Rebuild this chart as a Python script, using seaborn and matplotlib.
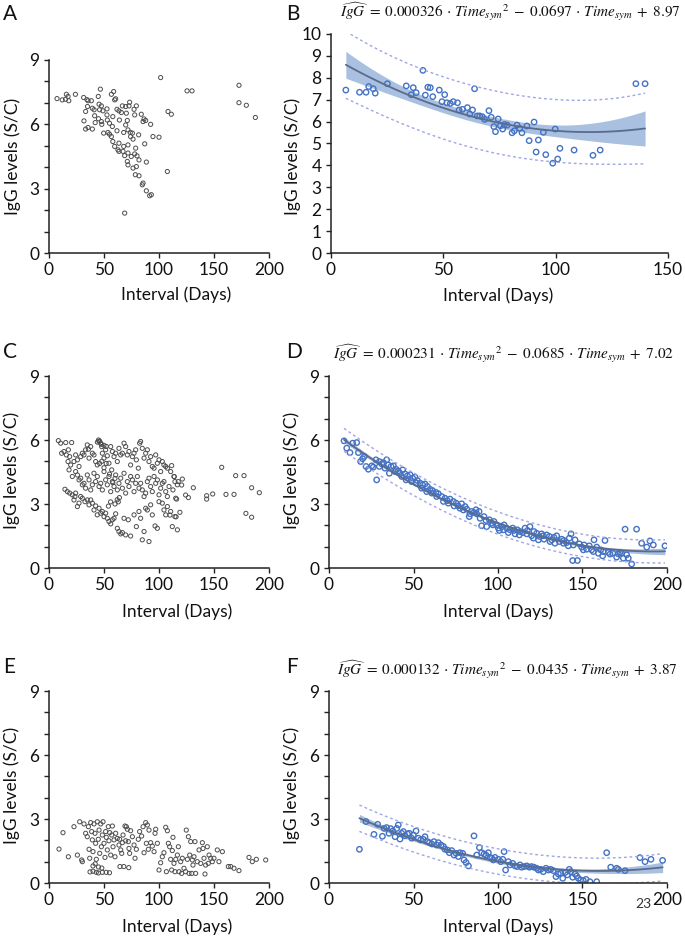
import numpy as np
import matplotlib
matplotlib.use("Agg")
import matplotlib.pyplot as plt
import seaborn as sns

# ---------------- data (Interval in days, IgG S/C) ----------------
panel_a_points = [(7.3,7.20),(12,7.14),(15,7.17),(15.8,7.40),(17.3,7.30),(18,7.10),(24,7.40),(31.5,7.25),(34.5,7.15),(35.5,7.10),
 (38.5,7.10),(31.8,6.16),(33.3,6.60),(35,6.83),(33.3,5.78),(35.5,5.85),(39.4,5.78),(39.4,6.75),(41,6.68),(41.5,6.40),
 (42,6.08),(44.8,7.30),(46.7,7.64),(45.5,6.94),(47.6,6.86),(46,6.68),(49,6.63),(45,6.26),(47.6,6.13),(48,6.00),
 (49.7,5.59),(52.7,6.72),(52.7,6.44),(53,6.20),(55,6.05),(53.6,5.62),(55,5.54),(56.7,5.43),(56.7,7.40),(58.8,7.53),
 (59.7,7.14),(60.6,7.19),(58,6.36),(57.6,5.90),(58,5.20),(59.7,4.97),(62.7,4.81),(61.8,6.70),(63.6,6.63),(64,6.20),
 (61.8,5.70),(63.6,5.12),(63.6,4.74),(65.8,6.55),(66.7,6.86),(67.9,5.62),(67.9,4.97),(67.3,4.74),(68.8,4.54),(68.8,1.86),
 (69.7,6.83),(70.3,6.52),(69.7,5.97),(71.2,6.18),(71.8,5.74),(71.8,5.04),(71.8,4.66),(71.2,4.27),(71.8,4.11),(73.3,7.03),
 (72.7,6.86),(73.9,5.62),(74.2,5.43),(74.8,4.50),(75.8,5.59),(76.4,5.31),(76.4,3.96),(77.3,6.70),(77.9,6.44),(77.9,4.62),
 (78.5,3.65),(79.4,6.86),(79.4,4.03),(80,4.53),(78.8,4.89),(81.5,5.51),(81.8,4.34),(81.8,3.60),(83.9,6.47),(85.5,6.13),
 (85.5,3.26),(84.8,3.18),(86.4,6.25),(87,5.09),(87.9,6.18),(88.5,4.24),(88.5,2.90),(91.5,2.67),(93,2.72),(92.4,6.00),
 (94.5,5.43),(100,5.40),(101.5,8.18),(107.6,3.80),(108.2,6.60),(111.2,6.47),(125.5,7.56),(130,7.56),(172.7,7.82),(172.7,7.01),
 (179.4,6.89),(187.6,6.32)]

panel_b_points = [(6.6,7.44),(12.7,7.34),(15.6,7.34),(16.8,7.60),(18.8,7.50),(19.7,7.30),(25.1,7.73),(33.5,7.63),(35.7,7.23),(36.6,7.55),
 (37.9,7.32),(40.9,8.34),(42,7.21),(43.1,7.57),(44.2,7.55),(45.3,7.14),(48.2,7.44),(49.4,6.91),(50.6,7.23),(51.6,6.86),
 (53.1,6.83),(54.4,6.91),(56.3,6.86),(57,6.53),(58.5,6.56),(60.7,6.64),(61.8,6.35),(63,6.53),(63.9,7.50),(65.1,6.26),
 (66.2,6.26),(67.4,6.22),(68.4,6.10),(70.3,6.50),(71.3,6.20),(72.5,5.77),(73.2,5.54),(74.4,6.12),(75.4,5.81),(76.4,5.66),
 (77.2,5.87),(78.4,5.84),(80.6,5.49),(81.6,5.58),(82.8,5.84),(84,5.69),(85,5.49),(87.2,5.80),(88.2,5.13),(90.4,5.98),
 (91.3,4.61),(92.3,5.16),(94.5,5.51),(95.6,4.49),(98.7,4.10),(99.8,5.66),(100.9,4.29),(101.9,4.78),(108.2,4.70),(116.6,4.46),
 (119.8,4.70),(135.7,7.73),(139.8,7.73)]

panel_c_points = [(8.5,5.97),(10.6,5.85),(15.2,5.88),(20.6,5.88),(11.5,5.38),(17.6,5.54),(18.8,5.22),(24.2,5.30),(22.7,4.99),(25.8,5.07),
 (28.8,5.22),(27.3,4.76),(30.3,5.38),(31.8,5.30),(33.3,5.54),(34.8,5.77),(35.8,5.57),(36.4,5.15),(37.9,5.69),(39.4,5.38),
 (40.9,5.30),(42.4,4.99),(43.9,4.83),(45.5,5.93),(47,5.85),(47.9,5.69),(48.5,5.38),(50,5.15),(51.5,5.54),(53,5.26),
 (54.5,4.91),(56.1,5.69),(57.6,5.46),(59.1,5.22),(60.6,5.38),(62.1,4.99),(63.6,5.61),(65.2,5.30),(66.7,5.38),(68.2,5.85),
 (69.7,5.69),(71.2,5.30),(72.7,5.46),(74.2,4.83),(75.8,5.22),(77.3,5.38),(78.8,5.54),(79.4,5.07),(81.2,4.68),(82.4,5.85),
 (83.3,5.93),(84.8,5.61),(86.4,5.15),(87.9,5.38),(89.4,5.54),(90.9,4.99),(92.4,5.22),(93.9,4.76),(95.5,4.68),(97,5.30),
 (98.5,4.91),(100,5.07),(101.5,4.52),(103,4.99),(104.5,4.83),(106.1,4.76),(107.6,4.68),(110.6,4.52),(113.6,4.29),(114.5,4.05),
 (116.7,3.90),(24.2,4.52),(25.8,4.36),(27.3,4.13),(28.8,4.21),(30.3,3.90),(31.8,3.97),(33.3,3.74),(34.8,4.36),(36.4,4.13),
 (37.9,3.66),(39.4,3.90),(40.9,4.44),(42.4,4.05),(43.9,4.29),(45.5,3.82),(47,3.97),(48.5,3.66),(50,4.52),(51.5,4.13),
 (53,3.90),(54.5,4.29),(56.1,3.58),(57.6,4.05),(59.1,3.82),(60.6,4.36),(62.1,3.66),(63.6,3.97),(65.2,4.21),(66.7,3.74),
 (68.2,4.44),(69.7,3.51),(71.2,4.05),(72.7,3.82),(74.2,4.29),(75.8,4.13),(77.3,3.58),(78.8,3.97),(80.3,4.29),(81.8,3.74),
 (83.3,3.97),(84.8,3.66),(86.4,3.35),(87.9,3.51),(89.4,4.05),(90.9,4.21),(92.4,3.82),(93.9,3.58),(95.5,4.29),(97,3.97),
 (98.5,4.13),(100,3.43),(101.5,3.74),(103,3.97),(104.5,4.05),(106.1,3.58),(107.6,3.35),(109.1,3.82),(112.7,3.66),(115.2,3.27),
 (14.5,3.69),(16.7,3.58),(18.8,3.51),(21.2,3.43),(23.6,3.35),(25.8,2.88),(27.3,3.04),(28.8,3.35),(30.3,3.27),(32.7,3.11),
 (34.8,3.19),(36.4,2.96),(37.9,3.19),(39.4,3.04),(40.9,2.72),(42.4,2.91),(43.9,2.49),(45.5,2.80),(47,2.57),(48.5,2.65),
 (50,2.41),(51.5,2.57),(53,2.33),(54.5,2.18),(56.1,2.07),(57.6,2.26),(59.1,2.33),(60.6,2.54),(62.1,1.86),(63.6,1.71),
 (65.2,1.60),(66.7,1.66),(68.2,2.33),(69.7,1.55),(72.1,2.26),(74.2,1.50),(77.3,2.49),(79.4,1.94),(81.8,2.65),(83.3,2.33),
 (84.8,1.32),(86.4,1.71),(87.9,2.80),(89.4,2.72),(90.9,1.24),(92.4,2.96),(93.9,2.49),(96.4,1.97),(98.5,1.86),(100,3.11),
 (103,3.04),(104.5,2.72),(106.1,2.49),(107.6,2.88),(110.6,2.65),(112.1,1.94),(114.5,2.41),(116.7,1.79),(22.7,3.19),(24.2,3.51),
 (18.2,4.60),(19.7,4.83),(21.2,4.29),(13.6,5.46),(15.8,5.30),(17.3,4.99),(44,5.90),(45,6.00),(46,5.95),(47.5,5.80),
 (50,5.75),(52,5.70),(46,4.90),(48,5.00),(50,4.70),(52,4.90),(55,4.40),(57,4.60),(58,4.00),(60,4.20),
 (62,3.20),(63,3.10),(64,3.30),(60,3.00),(56,3.10),(54,2.90),
 (111.5,4.80),(113.9,4.28),(117.5,4.05),(121.2,4.17),(120.6,3.89),(116,3.23),(119,2.61),(110,2.48),(115.5,2.40),(124.2,3.42),
 (126.7,3.30),(131.2,3.76),(143.3,3.39),(143.3,3.23),(148.8,3.47),(157,4.72),(160.9,3.45),(168.2,3.45),(169.7,4.33),(177.3,4.33),
 (179,2.56),(184.2,2.38),(184.2,3.76),(191.2,3.53)]

panel_d_points = [(8.9,5.96),(10.5,5.62),(12.4,5.41),(14,5.85),(16.4,5.88),(17.4,5.41),(18.7,4.99),(19.9,5.12),(20.9,5.23),(21.9,4.76),
 (23.3,4.63),(25.3,4.79),(26.2,4.73),(27.8,5.07),(28.2,4.13),(29.8,4.99),(31.2,4.88),(32.2,4.94),(34.1,5.07),(35.1,4.83),
 (36.7,4.76),(38.1,4.79),(39.7,4.63),(41,4.55),(42,4.44),(43.6,4.60),(45,4.41),(46.4,4.32),(48,4.37),(49.5,4.21),
 (50.9,4.26),(52.3,4.10),(53.9,3.98),(55.4,3.90),(56.8,3.94),(58.2,3.82),(59.8,3.69),(61.3,3.63),(63.3,3.54),(64.7,3.48),
 (66.7,3.35),(68.6,3.27),(70,3.16),(71.6,3.23),(73.6,3.12),(75.2,3.04),(76.5,2.91),(78.5,3.01),(80.5,2.88),(81.5,2.76),
 (83,2.41),(84.4,2.65),(85.8,2.60),(87.4,2.54),(88.8,2.65),(90.3,1.98),(91.7,2.41),(93.3,1.94),(94.9,2.26),(96.3,2.10),
 (97.6,2.18),(99.2,2.02),(100.8,1.76),(102.2,1.94),(103.6,2.02),(105.1,1.87),(107.1,1.79),(108.7,1.87),(110.1,1.60),(111.4,1.79),
 (113,1.71),(114.6,1.66),(116,1.87),(117.4,1.76),(118.9,1.94),(119.9,1.51),(121.3,1.71),(122.9,1.63),(124.5,1.48),(125.8,1.60),
 (127.2,1.35),(128.8,1.55),(130.4,1.48),(131.8,1.32),(133.1,1.44),(134.7,1.51),(136.3,1.24),(137.7,1.35),(139,1.29),(140.6,1.19),
 (142.2,1.40),(143.2,1.60),(144.2,0.35),(145.6,1.32),(147,0.35),(148.1,1.13),(149.5,0.98),(150.9,1.08),(152.5,0.88),(154,1.04),
 (155.4,0.85),(156.8,1.32),(158.4,0.98),(159.4,0.69),(160.8,0.85),(161.9,0.57),(163.3,1.29),(165.3,0.73),(167.9,0.69),(171.2,0.66),
 (172.2,0.73),(174.2,0.46),(175.2,1.82),(176.1,0.62),(179.1,0.19),(182,1.82),(185,1.16),(188,0.98),(189.9,1.27),(191.9,1.08),
 (198.8,1.04),(29.8,4.76),(33.1,4.68),(35.7,4.44),(39.1,4.52),(43,4.29),(45.6,4.13),(48.9,4.05),(51.5,3.98),(54.8,3.74),
 (57.8,3.58),(60.8,3.51),(63.7,3.35),(67.7,3.12),(70.6,3.04),(74,2.91),(77.5,2.80),(79.5,2.72),(83.4,2.54),(87,2.73),
 (89.4,2.33),(92.9,2.23),(96.9,2.02),(100.2,1.87),(103.2,1.79),(106.1,1.66),(109.5,1.76),(112.6,1.55),(117,1.60),(120.9,1.40),
 (123.9,1.32),(126.8,1.51),(130.8,1.24),(133.7,1.16),(138.7,1.16),(141.6,1.04),(144.6,1.08),(150.5,0.85),(156.4,0.77),(162.3,0.77),
 (166.3,0.65),(170.2,0.51),(173.2,0.69),(177.1,0.46)]

panel_e_points = [(9.1,1.59),(12.7,2.36),(17.6,1.23),(22.7,2.64),(25.8,1.31),(27.9,2.87),(30.3,1.00),(31.8,2.77),(33.3,2.33),(34.8,2.17),
 (35.8,2.64),(36.4,1.58),(37,1.16),(37.9,2.83),(38.8,2.41),(39.4,2.02),(40,1.47),(40.9,2.77),(41.8,2.33),(42.4,1.86),
 (43,1.11),(43.9,2.87),(44.8,2.05),(45.5,2.48),(46.1,1.39),(47,2.77),(47.6,1.70),(48.5,2.25),(49.1,2.87),(50,1.86),
 (50.9,1.20),(51.5,2.41),(52.1,2.14),(53,1.55),(53.9,2.64),(54.5,1.98),(55.2,2.36),(56.1,1.31),(57,2.25),(57.6,2.67),
 (58.2,1.70),(59.1,2.02),(60,1.23),(60.6,2.33),(62.1,2.09),(63.6,1.78),(64.2,2.05),(65.2,1.55),(66.1,1.39),(66.7,1.89),
 (67.3,2.25),(69.1,2.67),(69.7,1.98),(70.3,2.64),(71.2,2.52),(72.1,1.94),(72.7,1.62),(73.3,1.39),(74.2,2.45),(75.8,2.17),
 (77.3,1.78),(78.2,1.16),(79.4,1.58),(81.2,2.05),(82.4,2.41),(84.2,2.20),(85.5,2.64),(86.4,1.42),(87.9,2.83),(88.5,1.86),
 (89.4,2.72),(90.3,1.58),(90.9,2.48),(92.4,1.89),(93.9,1.73),(95.5,1.47),(96.4,2.33),(97,2.52),(98.5,1.86),(100,0.61),
 (101.5,0.95),(103,1.23),(104.5,1.42),(106.1,2.61),(106.7,0.53),(107.6,2.45),(108.5,1.86),(109.7,1.70),(110.6,1.11),(111.5,0.61),
 (112.1,1.52),(112.7,2.14),(113.6,0.92),(114.5,0.53),(115.2,1.11),(116.7,1.31),(117.6,1.70),(118.2,0.53),(119.7,1.00),(120.6,0.45),
 (121.2,1.16),(122.7,0.69),(124.2,0.53),(124.8,2.48),(125.8,1.11),(126.7,2.17),(127.3,0.45),(127.9,1.31),(128.8,1.94),(129.7,0.45),
 (130.3,1.08),(130.9,0.84),(131.8,1.23),(132.7,1.94),(133.3,0.45),(134.8,1.00),(136.4,1.55),(137.9,0.92),(139.4,1.89),(140,1.62),
 (140.9,1.16),(141.8,0.42),(142.4,0.84),(143.9,1.70),(144.8,0.92),(145.5,1.31),(147,1.16),(148.5,1.00),(150,1.16),(153,1.55),
 (154.5,1.00),(157.6,1.47),(163,0.77),(165.2,0.77),(168.2,0.69),(172.7,0.58),(181.8,1.20),(184.8,1.00),(188.5,1.11),(197,1.08),
 (37.3,0.52),(40,0.55),(43,0.50),(45,0.47),(48.5,0.50),(52,0.50),(55,0.48),(29.7,1.08),(40,0.80),(42,0.90),
 (45,0.75),(48,0.70),(64.5,0.77),(68,0.77),(72.5,0.72)]

panel_f_points = [(18,1.58),(21.9,2.88),(26.6,2.28),(28.8,2.75),(31.6,2.19),(32.6,2.56),(34.1,2.60),(35.5,2.33),(36.5,2.55),(37.7,2.44),
 (39.1,2.17),(40.1,2.56),(41,2.72),(42,2.06),(43,2.33),(44,2.41),(45,2.21),(46.4,2.30),(47.5,2.33),(48.9,2.10),
 (49.9,2.25),(51.5,2.44),(52.9,2.10),(54.2,2.02),(55.8,2.05),(56.8,2.17),(58.2,1.94),(59.4,1.89),(60.8,1.83),(62.1,1.94),
 (63.7,1.78),(64.7,1.89),(66.3,1.78),(67.7,1.71),(68.6,1.58),(70,1.55),(71.2,1.42),(72.6,1.52),(74,1.31),(75.2,1.39),
 (76.5,1.24),(77.5,1.42),(79.1,1.39),(79.9,1.08),(81.1,0.96),(82.5,0.80),(85.8,2.21),(87.4,1.31),(89,1.66),(90.3,1.42),
 (91.7,1.36),(92.9,1.31),(94.3,1.42),(95.3,1.20),(96.3,1.16),(97.2,1.08),(98.2,1.20),(100.2,1.11),(101.6,1.00),(102.8,1.11),
 (103.6,1.47),(104.5,0.61),(106.1,1.00),(107.1,0.85),(108.7,0.92),(110.1,0.80),(111.4,0.77),(113,0.85),(114,0.74),(115.4,0.77),
 (117,0.80),(118.5,0.74),(119.9,0.77),(121.3,0.74),(122.9,0.69),(123.9,0.61),(125.3,0.64),(126.8,0.53),(128.4,0.69),(129.8,0.61),
 (131.2,0.64),(132.7,0.58),(134.3,0.30),(135.7,0.42),(137.1,0.46),(138.3,0.22),(139.7,0.49),(141,0.38),(142.2,0.64),(143,0.53),
 (144.2,0.27),(145.6,0.42),(146.6,0.33),(147.5,0.22),(148.9,0.14),(150.5,0.11),(152.1,0.17),(154.4,0.06),(158.4,0.06),(164.3,1.42),
 (166.7,0.74),(170.2,0.69),(171.2,0.64),(175.2,0.58),(184,1.19),(187,1.00),(190.5,1.11),(197.4,1.06)]

# quadratic model coefficients shown in the titles (a, b, c)
eq_b = (0.000326, 0.0697, 8.97)
eq_d = (0.000231, 0.0685, 7.02)
eq_f = (0.000132, 0.0435, 3.87)

x_ticks = [0, 50, 100, 150, 200]
x_ticks_b = [0, 50, 100, 150]
y_ticks_9 = list(range(0, 10))
y_labels_9 = ['0', '', '', '3', '', '', '6', '', '', '9']
y_ticks_10 = list(range(0, 11))

# ---------------- style ----------------
sns.set_theme(style="ticks")
FONT = ['Lato', 'DejaVu Sans']
plt.rcParams['font.family'] = FONT
plt.rcParams['mathtext.fontset'] = 'stix'

W, H = 685, 938
fig = plt.figure(figsize=(W / 100, H / 100), dpi=100)

def px_axes(left, top, right, bottom):
    return fig.add_axes([left / W, 1 - bottom / H, (right - left) / W, (bottom - top) / H])

def ftxt(x, y, s, **kw):
    fig.text(x / W, 1 - y / H, s, **kw)

GRAY = '#4d4d4d'
BLUE = '#4472C4'
LINE = '#5a6b8c'
BAND = '#a9c0e0'
PI = '#9da6e6'

def style_axes(ax, xticks, xlim, yticks, ylabels, ylim):
    ax.set_xlim(*xlim)
    ax.set_ylim(*ylim)
    ax.set_xticks(xticks)
    ax.set_xticklabels([str(t) for t in xticks])
    ax.set_yticks(yticks)
    ax.set_yticklabels(ylabels)
    for side in ('top', 'right'):
        ax.spines[side].set_visible(False)
    for side in ('left', 'bottom'):
        ax.spines[side].set_color('#222222')
        ax.spines[side].set_linewidth(1.1)
    ax.tick_params(axis='both', direction='out', length=3.8, width=1.0, color='#222222',
                   labelsize=12.5, labelcolor='#111111', pad=3)
    ax.set_xlabel('')
    ax.set_ylabel('')
    ax.set_facecolor('white')
    ax.patch.set_alpha(0)

def scatter(ax, pts, color, size, lw):
    xs = [p[0] for p in pts]
    ys = [p[1] for p in pts]
    sns.scatterplot(x=xs, y=ys, ax=ax, marker='o', s=size, linewidth=lw, legend=False)
    coll = ax.collections[-1]
    coll.set_facecolor('none')
    coll.set_edgecolor(color)
    coll.set_linewidth(lw)

def quad_model(pts):
    x = np.array([p[0] for p in pts], float)
    y = np.array([p[1] for p in pts], float)
    X = np.vander(x, 3)
    beta, *_ = np.linalg.lstsq(X, y, rcond=None)
    dof = len(x) - 3
    s2 = np.sum((y - X @ beta) ** 2) / dof
    cov = np.linalg.inv(X.T @ X)
    grid = np.linspace(x.min(), x.max(), 300)
    G = np.vander(grid, 3)
    fit = G @ beta
    se = np.sqrt(np.einsum('ij,jk,ik->i', G, cov, G) * s2)
    t = 1.98
    pi = t * np.sqrt(s2 + se ** 2)
    return grid, fit, fit - t * se, fit + t * se, fit - pi, fit + pi

def draw_model(ax, pts):
    grid, fit, lo, hi, plo, phi = quad_model(pts)
    ax.fill_between(grid, lo, hi, color=BAND, lw=0, zorder=1)
    ax.plot(grid, fit, color=LINE, lw=1.3, zorder=2)
    ax.plot(grid, plo, color=PI, lw=1.0, ls=(0, (2, 2)), zorder=2)
    ax.plot(grid, phi, color=PI, lw=1.0, ls=(0, (2, 2)), zorder=2)

def eq_text(coef):
    a, b, c = coef
    return (r'$\widehat{IgG}\;=\;' + f'{a:.6f}' + r'\,\cdot\,{Time_{sym}}^{2}\;-\;' + f'{b:.4f}' +
            r'\,\cdot\,Time_{sym}\;+\;' + f'{c:.2f}' + r'$')

# ---------------- panels ----------------
ax_a = px_axes(49, 60, 269, 253)
scatter(ax_a, panel_a_points, GRAY, 9, 0.7)
style_axes(ax_a, x_ticks, (0, 200), y_ticks_9, y_labels_9, (0, 9))

ax_b = px_axes(331, 34, 668, 253)
draw_model(ax_b, panel_b_points)
scatter(ax_b, panel_b_points, BLUE, 15, 1.0)
style_axes(ax_b, x_ticks_b, (0, 150), y_ticks_10, [str(t) for t in y_ticks_10], (0, 10))

ax_c = px_axes(49, 376, 269, 568)
scatter(ax_c, panel_c_points, GRAY, 9, 0.7)
style_axes(ax_c, x_ticks, (0, 200), y_ticks_9, y_labels_9, (0, 9))

ax_d = px_axes(329, 376, 667, 568)
draw_model(ax_d, panel_d_points)
scatter(ax_d, panel_d_points, BLUE, 15, 1.0)
style_axes(ax_d, x_ticks, (0, 200), y_ticks_9, y_labels_9, (0, 9))

ax_e = px_axes(49, 691, 269, 883)
scatter(ax_e, panel_e_points, GRAY, 9, 0.7)
style_axes(ax_e, x_ticks, (0, 200), y_ticks_9, y_labels_9, (0, 9))

ax_f = px_axes(329, 691, 667, 883)
draw_model(ax_f, panel_f_points)
scatter(ax_f, panel_f_points, BLUE, 15, 1.0)
style_axes(ax_f, x_ticks, (0, 200), y_ticks_9, y_labels_9, (0, 9))

# ---------------- texts ----------------
lab_kw = dict(fontsize=12.5, color='#111111', ha='center', va='center')
for (x, y) in [(176, 295), (498, 296), (177, 612), (498, 612), (177, 927), (498, 927)]:
    ftxt(x, y, 'Interval (Days)', **lab_kw)
for (x, y) in [(13, 156), (293, 156), (12, 470), (292, 470), (12, 785), (292, 785)]:
    ftxt(x, y, 'IgG levels (S/C)', rotation=90, **lab_kw)

pan_kw = dict(fontsize=15, color='#111111', ha='left', va='top')
for (x, y, s) in [(3, 4, 'A'), (286, 4, 'B'), (3, 342, 'C'), (286, 342, 'D'), (3, 657, 'E'), (286, 657, 'F')]:
    ftxt(x, y, s, **pan_kw)

eq_kw = dict(fontsize=11, color='#111111', ha='center', va='center')
ftxt(510, 12, eq_text(eq_b), **eq_kw)
ftxt(503, 354, eq_text(eq_d), **eq_kw)
ftxt(507, 670, eq_text(eq_f), **eq_kw)

ftxt(643, 904, '23', fontsize=10, color='#333333', ha='center', va='center')

fig.savefig('out.png', dpi=100, facecolor='white')
